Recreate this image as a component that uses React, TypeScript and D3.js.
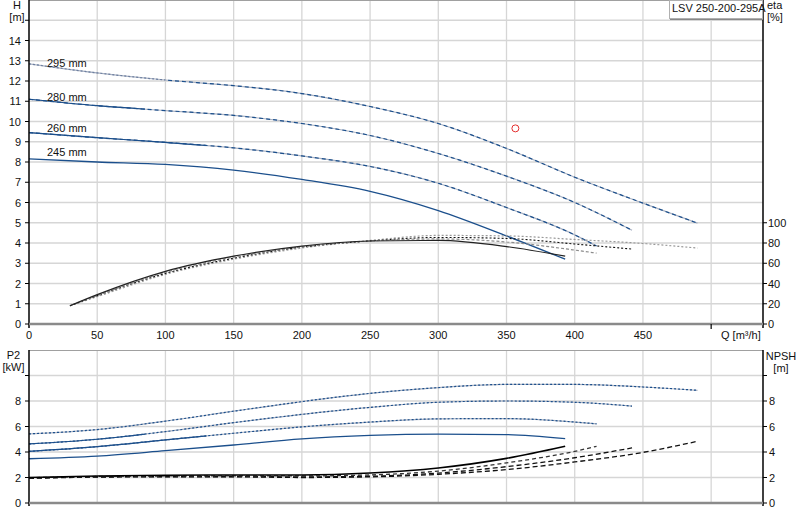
import React, { useEffect, useRef } from "react";
import * as d3 from "d3";

// Q [m3/h] sample points per impeller diameter
const flows295 = [0, 50, 100, 150, 200, 250, 300, 350, 400, 450, 490];
const flows280 = [0, 50, 100, 150, 200, 250, 300, 350, 400, 442];
const flows260 = [0, 50, 100, 150, 200, 250, 300, 350, 400, 416];
const flows245 = [0, 50, 100, 150, 200, 250, 300, 350, 393];

// head H [m]
const head295 = [12.85, 12.4, 12.05, 11.77, 11.38, 10.74, 9.9, 8.67, 7.25, 5.97, 4.98];
const head280 = [11.1, 10.78, 10.54, 10.3, 9.9, 9.31, 8.42, 7.3, 6.0, 4.63];
const head260 = [9.45, 9.2, 8.97, 8.7, 8.3, 7.78, 6.95, 5.75, 4.4, 3.85];
const head245 = [8.15, 8.0, 7.88, 7.6, 7.14, 6.55, 5.6, 4.35, 3.2];

// efficiency eta [%]
const etaFlows295 = [30, 50, 100, 150, 200, 250, 300, 350, 400, 450, 490];
const etaFlows280 = [30, 50, 100, 150, 200, 250, 300, 350, 400, 442];
const etaFlows260 = [30, 50, 100, 150, 200, 250, 300, 350, 400, 416];
const etaFlows245 = [30, 50, 100, 150, 200, 250, 300, 350, 393];
const eta295 = [18, 27, 49, 64, 75, 82.5, 87.5, 87, 83.5, 79.5, 75];
const eta280 = [18, 28, 50, 65, 76, 82, 85.5, 84.5, 79, 74];
const eta260 = [18, 28, 51, 66, 76, 82, 84, 81, 73, 70];
const eta245 = [18, 29, 52, 67, 77, 82, 82.5, 76.5, 67];

// shaft power P2 [kW]
const power295 = [5.42, 5.76, 6.42, 7.2, 7.95, 8.6, 9.05, 9.3, 9.3, 9.1, 8.84];
const power280 = [4.63, 5.0, 5.6, 6.3, 6.95, 7.5, 7.9, 8.0, 7.9, 7.6];
const power260 = [4.05, 4.42, 4.95, 5.47, 5.97, 6.35, 6.6, 6.62, 6.35, 6.21];
const power245 = [3.47, 3.68, 4.1, 4.55, 5.03, 5.3, 5.4, 5.37, 5.05];

// NPSH [m]
const npsh295 = [1.93, 2.03, 2.05, 2.05, 2.0, 2.05, 2.25, 2.62, 3.22, 3.97, 4.84];
const npsh280 = [1.95, 2.05, 2.08, 2.08, 2.05, 2.1, 2.35, 2.85, 3.55, 4.32];
const npsh260 = [1.98, 2.08, 2.12, 2.13, 2.12, 2.2, 2.5, 3.15, 4.05, 4.45];
const npsh245 = [2.0, 2.12, 2.18, 2.2, 2.2, 2.35, 2.75, 3.5, 4.45];

const diameterLabels = ["295 mm", "280 mm", "260 mm", "245 mm"];
const labelHeads = [12.69, 11.01, 9.48, 8.3];
const qTicks = [0, 50, 100, 150, 200, 250, 300, 350, 400, 450];
const hTicks = d3.range(0, 15);
const etaTicks = [0, 20, 40, 60, 80, 100];
const pTicks = [0, 2, 4, 6, 8];
const dutyPoint = { q: 356.5, h: 9.66 };
const pumpName = "LSV 250-200-295A";

const FONT = "'Liberation Sans', Arial, sans-serif";
const BLUE = "#1b4f8c";
const BASE = "#aab3c4";

const App: React.FC = () => {
  const svgRef = useRef<SVGSVGElement | null>(null);

  useEffect(() => {
    if (!svgRef.current) return;
    const svg = d3.select(svgRef.current);
    svg.selectAll("*").remove();

    const left = 29;
    const right = 763;
    const x = d3.scaleLinear().domain([0, 538]).range([left, right]);
    const yH = d3.scaleLinear().domain([0, 16]).range([324, 0]);
    const yEta = d3.scaleLinear().domain([0, 320]).range([324, 0]);
    const yP = d3.scaleLinear().domain([0, 12]).range([503, 350]);

    const defs = svg.append("defs");
    const clip = (id: string, q0: number, q1: number) =>
      defs
        .append("clipPath")
        .attr("id", id)
        .append("rect")
        .attr("x", x(q0))
        .attr("y", 0)
        .attr("width", x(q1) - x(q0))
        .attr("height", 520);
    clip("l100", 0, 100);
    clip("r100", 100, 600);
    clip("l85", 0, 85);
    clip("l130", 0, 130);

    const path = (xs: number[], ys: number[], yS: d3.ScaleLinear<number, number>) =>
      d3
        .line<number>()
        .x((_, i) => x(xs[i]))
        .y((d) => yS(d))
        .curve(d3.curveMonotoneX)(ys) || "";

    const draw = (
      d: string,
      stroke: string,
      width: number,
      dash?: string,
      clipId?: string
    ) => {
      const p = svg
        .append("path")
        .attr("d", d)
        .attr("fill", "none")
        .attr("stroke", stroke)
        .attr("stroke-width", width);
      if (dash) p.attr("stroke-dasharray", dash);
      if (clipId) p.attr("clip-path", `url(#${clipId})`);
    };

    // grids
    const grid = svg.append("g").attr("stroke", "#d6d6d6").attr("stroke-width", 1.3);
    d3.range(50, 501, 50).forEach((q) => {
      grid.append("line").attr("x1", x(q)).attr("x2", x(q)).attr("y1", 0).attr("y2", 324);
      grid.append("line").attr("x1", x(q)).attr("x2", x(q)).attr("y1", 350).attr("y2", 503);
    });
    d3.range(1, 16).forEach((h) => {
      grid.append("line").attr("x1", left).attr("x2", right).attr("y1", yH(h)).attr("y2", yH(h));
    });
    [2, 4, 6, 8, 10].forEach((p) => {
      grid.append("line").attr("x1", left).attr("x2", right).attr("y1", yP(p)).attr("y2", yP(p));
    });
    // top borders
    svg.append("line").attr("x1", left).attr("x2", right).attr("y1", 0.5).attr("y2", 0.5).attr("stroke", "#a0a0a0");
    svg.append("line").attr("x1", left).attr("x2", right).attr("y1", 350.5).attr("y2", 350.5).attr("stroke", "#a0a0a0");

    // head curves
    const h295 = path(flows295, head295, yH);
    draw(h295, BASE, 1.2);
    draw(h295, BLUE, 1.2, "4,3", "r100");
    draw(h295, "#6d7fa0", 1.2, "2,2", "l100");
    const h280 = path(flows280, head280, yH);
    draw(h280, BASE, 1.2);
    draw(h280, BLUE, 1.2, "4,3");
    draw(h280, BLUE, 1.2, undefined, "l85");
    const h260 = path(flows260, head260, yH);
    draw(h260, BASE, 1.2);
    draw(h260, BLUE, 1.2, "4,3");
    draw(h260, BLUE, 1.2, undefined, "l130");
    draw(path(flows245, head245, yH), BLUE, 1.3);

    // efficiency curves
    draw(path(etaFlows295, eta295, yEta), "#999", 1.2, "2,2");
    draw(path(etaFlows280, eta280, yEta), "#111", 1.1, "2,2");
    draw(path(etaFlows260, eta260, yEta), "#8c8c8c", 1.2, "3,2");
    draw(path(etaFlows245, eta245, yEta), "#222", 1.2);

    // power curves
    const p295 = path(flows295, power295, yP);
    draw(p295, BASE, 1.2);
    draw(p295, BLUE, 1.2, "2,2");
    const p280 = path(flows280, power280, yP);
    draw(p280, BASE, 1.2);
    draw(p280, BLUE, 1.2, "2,2");
    draw(p280, BLUE, 1.2, undefined, "l85");
    const p260 = path(flows260, power260, yP);
    draw(p260, BASE, 1.2);
    draw(p260, BLUE, 1.2, "2,2");
    draw(p260, BLUE, 1.2, undefined, "l130");
    draw(path(flows245, power245, yP), BLUE, 1.3);

    // NPSH curves
    draw(path(flows295, npsh295, yP), "#111", 1.3, "5,3");
    draw(path(flows280, npsh280, yP), "#111", 1.3, "5,3");
    draw(path(flows260, npsh260, yP), "#333", 1.3, "4,3");
    draw(path(flows245, npsh245, yP), "#000", 1.6);

    // duty point
    svg
      .append("circle")
      .attr("cx", x(dutyPoint.q))
      .attr("cy", yH(dutyPoint.h))
      .attr("r", 3.5)
      .attr("fill", "none")
      .attr("stroke", "#e53030")
      .attr("stroke-width", 1);

    // diameter labels
    diameterLabels.forEach((t, i) => {
      svg
        .append("text")
        .attr("x", 47)
        .attr("y", yH(labelHeads[i]))
        .attr("font-family", FONT)
        .attr("font-size", 11)
        .attr("fill", "#111")
        .text(t);
    });

    // axes
    const axisLine = (x1: number, y1: number, x2: number, y2: number, color: string, w: number) =>
      svg.append("line").attr("x1", x1).attr("y1", y1).attr("x2", x2).attr("y2", y2).attr("stroke", color).attr("stroke-width", w);
    axisLine(left, 0, left, 328, "#000", 1.5);
    axisLine(right, 0, right, 328, "#000", 1.5);
    axisLine(left, 350, left, 506, "#000", 1.5);
    axisLine(right, 350, right, 506, "#000", 1.5);
    axisLine(left, 324, right, 324, "#8a8a8a", 2.5);
    axisLine(left, 503, right, 503, "#8a8a8a", 2.5);
    axisLine(x(500), 324, x(500), 329, "#000", 1.2);

    const label = (tx: number, ty: number, t: string, anchor: string, size = 11) =>
      svg
        .append("text")
        .attr("x", tx)
        .attr("y", ty)
        .attr("text-anchor", anchor)
        .attr("font-family", FONT)
        .attr("font-size", size)
        .attr("fill", "#111")
        .text(t);

    hTicks.forEach((h) => {
      axisLine(left - 4, yH(h), left, yH(h), "#000", 1);
      label(21, yH(h) + 4, String(h), "end");
    });
    axisLine(left - 4, yH(15), left, yH(15), "#000", 1);
    etaTicks.forEach((e) => {
      axisLine(right, yEta(e), right + 4, yEta(e), "#000", 1);
      label(768, yEta(e) + 4, String(e), "start");
    });
    pTicks.forEach((p) => {
      axisLine(left - 4, yP(p), left, yP(p), "#000", 1);
      axisLine(right, yP(p), right + 4, yP(p), "#000", 1);
      label(21, yP(p) + 4, String(p), "end");
      label(769, yP(p) + 4, String(p), "start");
    });
    axisLine(left - 4, yP(10), left, yP(10), "#000", 1);
    axisLine(right, yP(10), right + 4, yP(10), "#000", 1);

    qTicks.forEach((q) => label(x(q), 339, String(q), "middle"));
    label(721, 339, "Q [m³/h]", "start");

    label(17, 9, "H", "middle");
    label(17, 21, "[m]", "middle");
    label(767, 9, "eta", "start");
    label(767, 21, "[%]", "start");
    label(13.5, 359, "P2", "middle");
    label(13.5, 371, "[kW]", "middle");
    label(781, 360, "NPSH", "middle");
    label(781, 372, "[m]", "middle");

    // pump name box
    svg.append("rect").attr("x", 669.5).attr("y", 0.5).attr("width", 93).attr("height", 18).attr("fill", "#fff").attr("stroke", "#b0b0b0");
    axisLine(670, 19.5, 763, 19.5, "#888", 1);
    label(672, 12, pumpName, "start");
  }, []);

  return (
    <svg
      ref={svgRef}
      width={800}
      height={520}
      style={{ position: "absolute", left: 0, top: 0, background: "#fff" }}
    ></svg>
  );
};

export default App;
